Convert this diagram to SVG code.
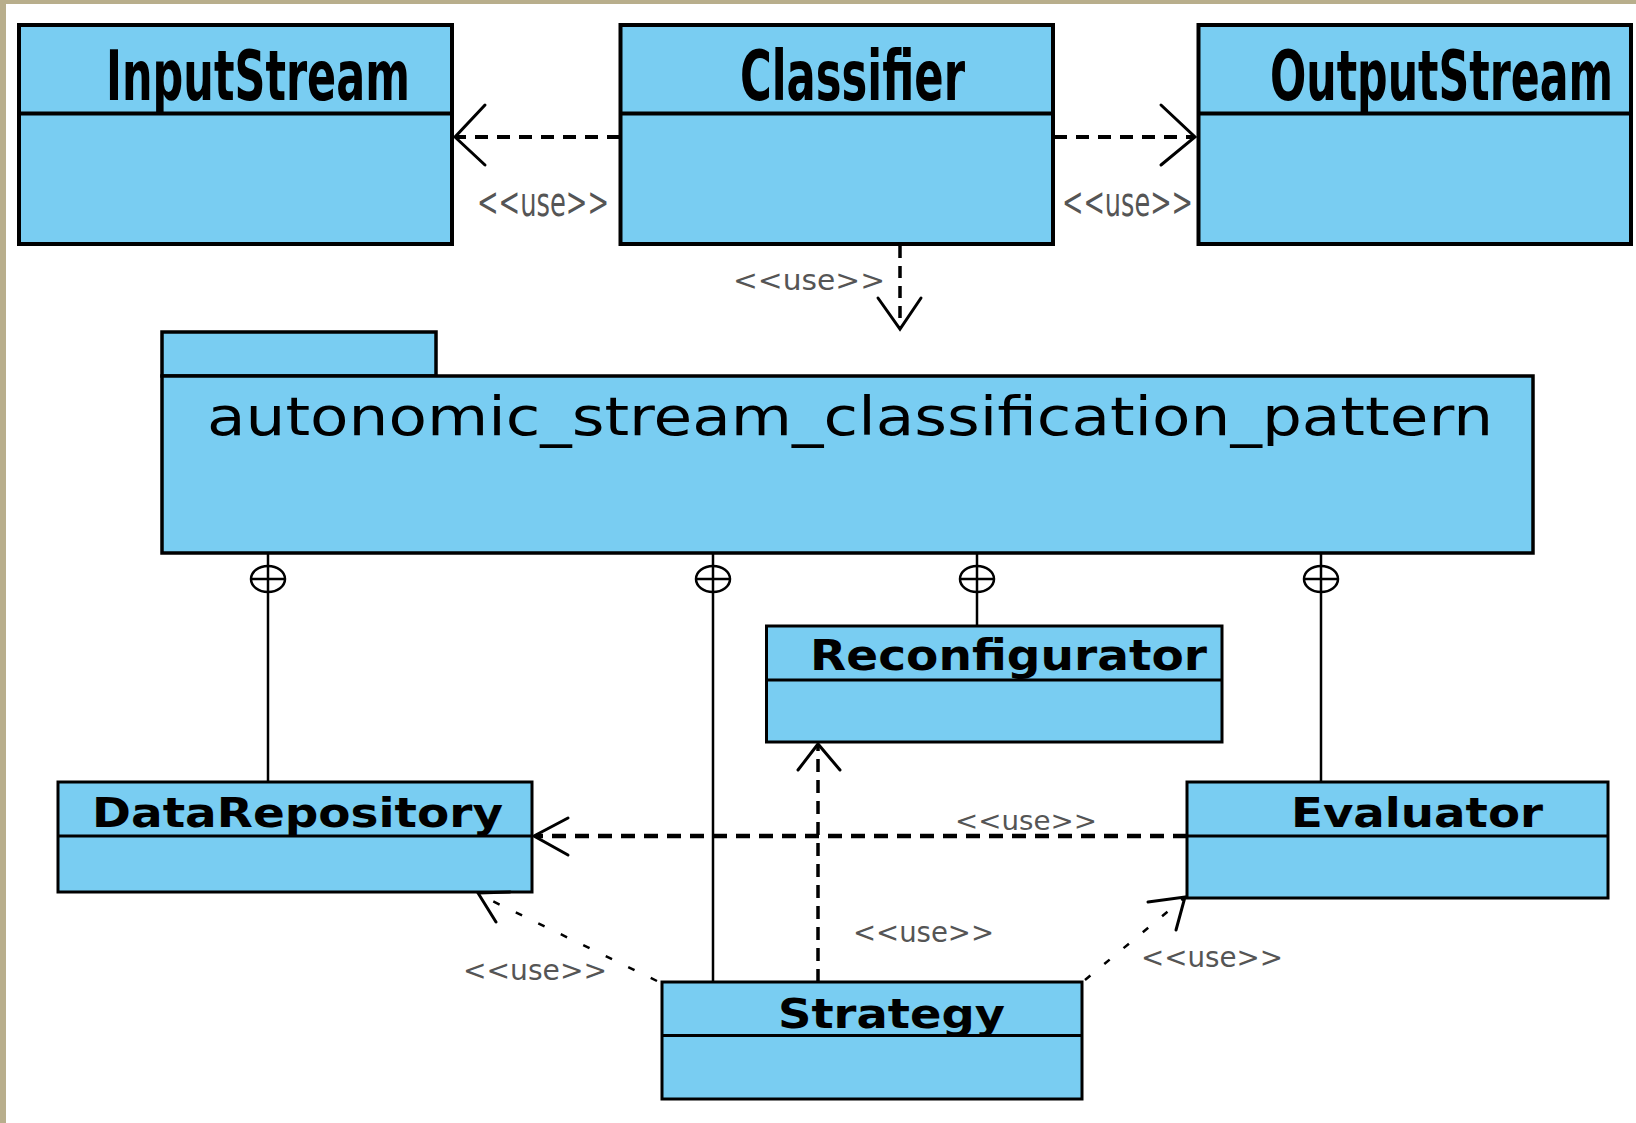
<svg xmlns="http://www.w3.org/2000/svg" width="1636" height="1123" viewBox="0 0 1636 1123">
<style>
.box{fill:#79cdf2;stroke:#000;}
.big{stroke-width:4;}
.small{stroke-width:3;}
.div{stroke:#000;fill:none;}
.title{font-family:"DejaVu Sans","Liberation Sans",sans-serif;font-weight:bold;fill:#000;}
.pkg{font-family:"DejaVu Sans","Liberation Sans",sans-serif;fill:#000;}
.lbl{font-family:"DejaVu Sans","Liberation Sans",sans-serif;fill:#555;}
.solid{stroke:#000;stroke-width:2.5;fill:none;}
.dash{stroke:#000;fill:none;}
.head{stroke:#000;stroke-width:3;fill:none;stroke-linecap:round;stroke-linejoin:miter;}
</style>
<rect x="0" y="0" width="1636" height="1123" fill="#ffffff"/>
<rect x="0" y="0" width="1636" height="4" fill="#b8ae8c"/>
<rect x="0" y="0" width="6" height="1123" fill="#b8ae8c"/>

<g id="InputStream">
<rect class="box big" x="19" y="25" width="433" height="219"/>
<line class="div" stroke-width="4" x1="19" y1="113.5" x2="452" y2="113.5"/>
<text class="title" x="106" y="100" font-size="70" textLength="304" lengthAdjust="spacingAndGlyphs">InputStream</text>
</g>
<g id="Classifier">
<rect class="box big" x="620.5" y="25" width="432.5" height="219"/>
<line class="div" stroke-width="4" x1="620.5" y1="113.5" x2="1053" y2="113.5"/>
<text class="title" x="740" y="100" font-size="70" textLength="225" lengthAdjust="spacingAndGlyphs">Classifier</text>
</g>
<g id="OutputStream">
<rect class="box big" x="1198.5" y="25" width="432.5" height="219"/>
<line class="div" stroke-width="4" x1="1198.5" y1="113.5" x2="1631" y2="113.5"/>
<text class="title" x="1270" y="100" font-size="70" textLength="343" lengthAdjust="spacingAndGlyphs">OutputStream</text>
</g>
<g id="autonomic_stream_classification_pattern">
<rect class="box" stroke-width="3.5" x="162" y="332" width="274" height="44"/>
<rect class="box" stroke-width="3.5" x="162" y="376" width="1371" height="177"/>
<text class="pkg" x="207" y="435" font-size="53" textLength="1286" lengthAdjust="spacingAndGlyphs">autonomic_stream_classification_pattern</text>
</g>
<g id="DataRepository">
<rect class="box small" x="58" y="782" width="474" height="110"/>
<line class="div" stroke-width="3" x1="58" y1="836" x2="532" y2="836"/>
<text class="title" x="92" y="827" font-size="41" textLength="411" lengthAdjust="spacingAndGlyphs">DataRepository</text>
</g>
<g id="Reconfigurator">
<rect class="box small" x="766.5" y="626" width="455.5" height="116"/>
<line class="div" stroke-width="3" x1="766.5" y1="680" x2="1222" y2="680"/>
<text class="title" x="810" y="670" font-size="42" textLength="397" lengthAdjust="spacingAndGlyphs">Reconfigurator</text>
</g>
<g id="Evaluator">
<rect class="box small" x="1187" y="782" width="421" height="116"/>
<line class="div" stroke-width="3" x1="1187" y1="836" x2="1608" y2="836"/>
<text class="title" x="1291" y="827" font-size="41" textLength="252" lengthAdjust="spacingAndGlyphs">Evaluator</text>
</g>
<g id="Strategy">
<rect class="box small" x="662" y="982" width="420" height="117"/>
<line class="div" stroke-width="3" x1="662" y1="1035.5" x2="1082" y2="1035.5"/>
<text class="title" x="778" y="1028" font-size="41" textLength="227" lengthAdjust="spacingAndGlyphs">Strategy</text>
</g>

<g id="connectors">
<!-- Classifier -> InputStream -->
<line class="dash" stroke-width="4" stroke-dasharray="13 9" x1="620" y1="137" x2="456" y2="137"/>
<polyline class="head" points="485,105 455,137 485,165"/>
<text class="lbl" x="477" y="216" font-size="40" textLength="132" lengthAdjust="spacingAndGlyphs">&lt;&lt;use&gt;&gt;</text>
<!-- Classifier -> OutputStream -->
<line class="dash" stroke-width="4" stroke-dasharray="13 9" x1="1054" y1="137" x2="1194" y2="137"/>
<polyline class="head" points="1161,105 1195,137 1161,165"/>
<text class="lbl" x="1062" y="216" font-size="40" textLength="131" lengthAdjust="spacingAndGlyphs">&lt;&lt;use&gt;&gt;</text>
<!-- Classifier -> package -->
<line class="dash" stroke-width="3.5" stroke-dasharray="12 8" x1="900" y1="246" x2="900" y2="328"/>
<polyline class="head" points="878,298 900,329 921,298"/>
<text class="lbl" x="733" y="290" font-size="29" textLength="152" lengthAdjust="spacingAndGlyphs">&lt;&lt;use&gt;&gt;</text>
<!-- containment lines -->
<line class="solid" x1="268" y1="553" x2="268" y2="782"/>
<ellipse cx="268" cy="579" rx="17" ry="13" fill="#fff" stroke="#000" stroke-width="2.5"/>
<line class="solid" x1="268" y1="566" x2="268" y2="592"/>
<line class="solid" x1="251" y1="579" x2="285" y2="579"/>
<line class="solid" x1="713" y1="553" x2="713" y2="982"/>
<ellipse cx="713" cy="579" rx="17" ry="13" fill="#fff" stroke="#000" stroke-width="2.5"/>
<line class="solid" x1="713" y1="566" x2="713" y2="592"/>
<line class="solid" x1="696" y1="579" x2="730" y2="579"/>
<line class="solid" x1="977" y1="553" x2="977" y2="626"/>
<ellipse cx="977" cy="579" rx="17" ry="13" fill="#fff" stroke="#000" stroke-width="2.5"/>
<line class="solid" x1="977" y1="566" x2="977" y2="592"/>
<line class="solid" x1="960" y1="579" x2="994" y2="579"/>
<line class="solid" x1="1321" y1="553" x2="1321" y2="782"/>
<ellipse cx="1321" cy="579" rx="17" ry="13" fill="#fff" stroke="#000" stroke-width="2.5"/>
<line class="solid" x1="1321" y1="566" x2="1321" y2="592"/>
<line class="solid" x1="1304" y1="579" x2="1338" y2="579"/>
<!-- Evaluator -> DataRepository -->
<line class="dash" stroke-width="4.5" stroke-dasharray="14 9" x1="1187" y1="836" x2="536" y2="836"/>
<polyline class="head" points="568,818 534,836 568,855"/>
<text class="lbl" x="955" y="830" font-size="27" textLength="142" lengthAdjust="spacingAndGlyphs">&lt;&lt;use&gt;&gt;</text>
<!-- Strategy -> Reconfigurator -->
<line class="dash" stroke-width="3.5" stroke-dasharray="13 8" x1="818" y1="982" x2="818" y2="746"/>
<polyline class="head" points="798,770 818,744 840,770"/>
<text class="lbl" x="853" y="942" font-size="28" textLength="141" lengthAdjust="spacingAndGlyphs">&lt;&lt;use&gt;&gt;</text>
<!-- Strategy -> DataRepository -->
<line class="dash" stroke-width="2.5" stroke-dasharray="7 18" x1="657" y1="981" x2="480" y2="895"/>
<polyline class="head" points="496,922 478,893 510,892"/>
<text class="lbl" x="463" y="980" font-size="28" textLength="144" lengthAdjust="spacingAndGlyphs">&lt;&lt;use&gt;&gt;</text>
<!-- Strategy -> Evaluator -->
<line class="dash" stroke-width="2.5" stroke-dasharray="7 18" x1="1085" y1="980" x2="1183" y2="899"/>
<polyline class="head" points="1148,902 1185,897 1176,930"/>
<text class="lbl" x="1141" y="967" font-size="28" textLength="142" lengthAdjust="spacingAndGlyphs">&lt;&lt;use&gt;&gt;</text>
</g>
</svg>
